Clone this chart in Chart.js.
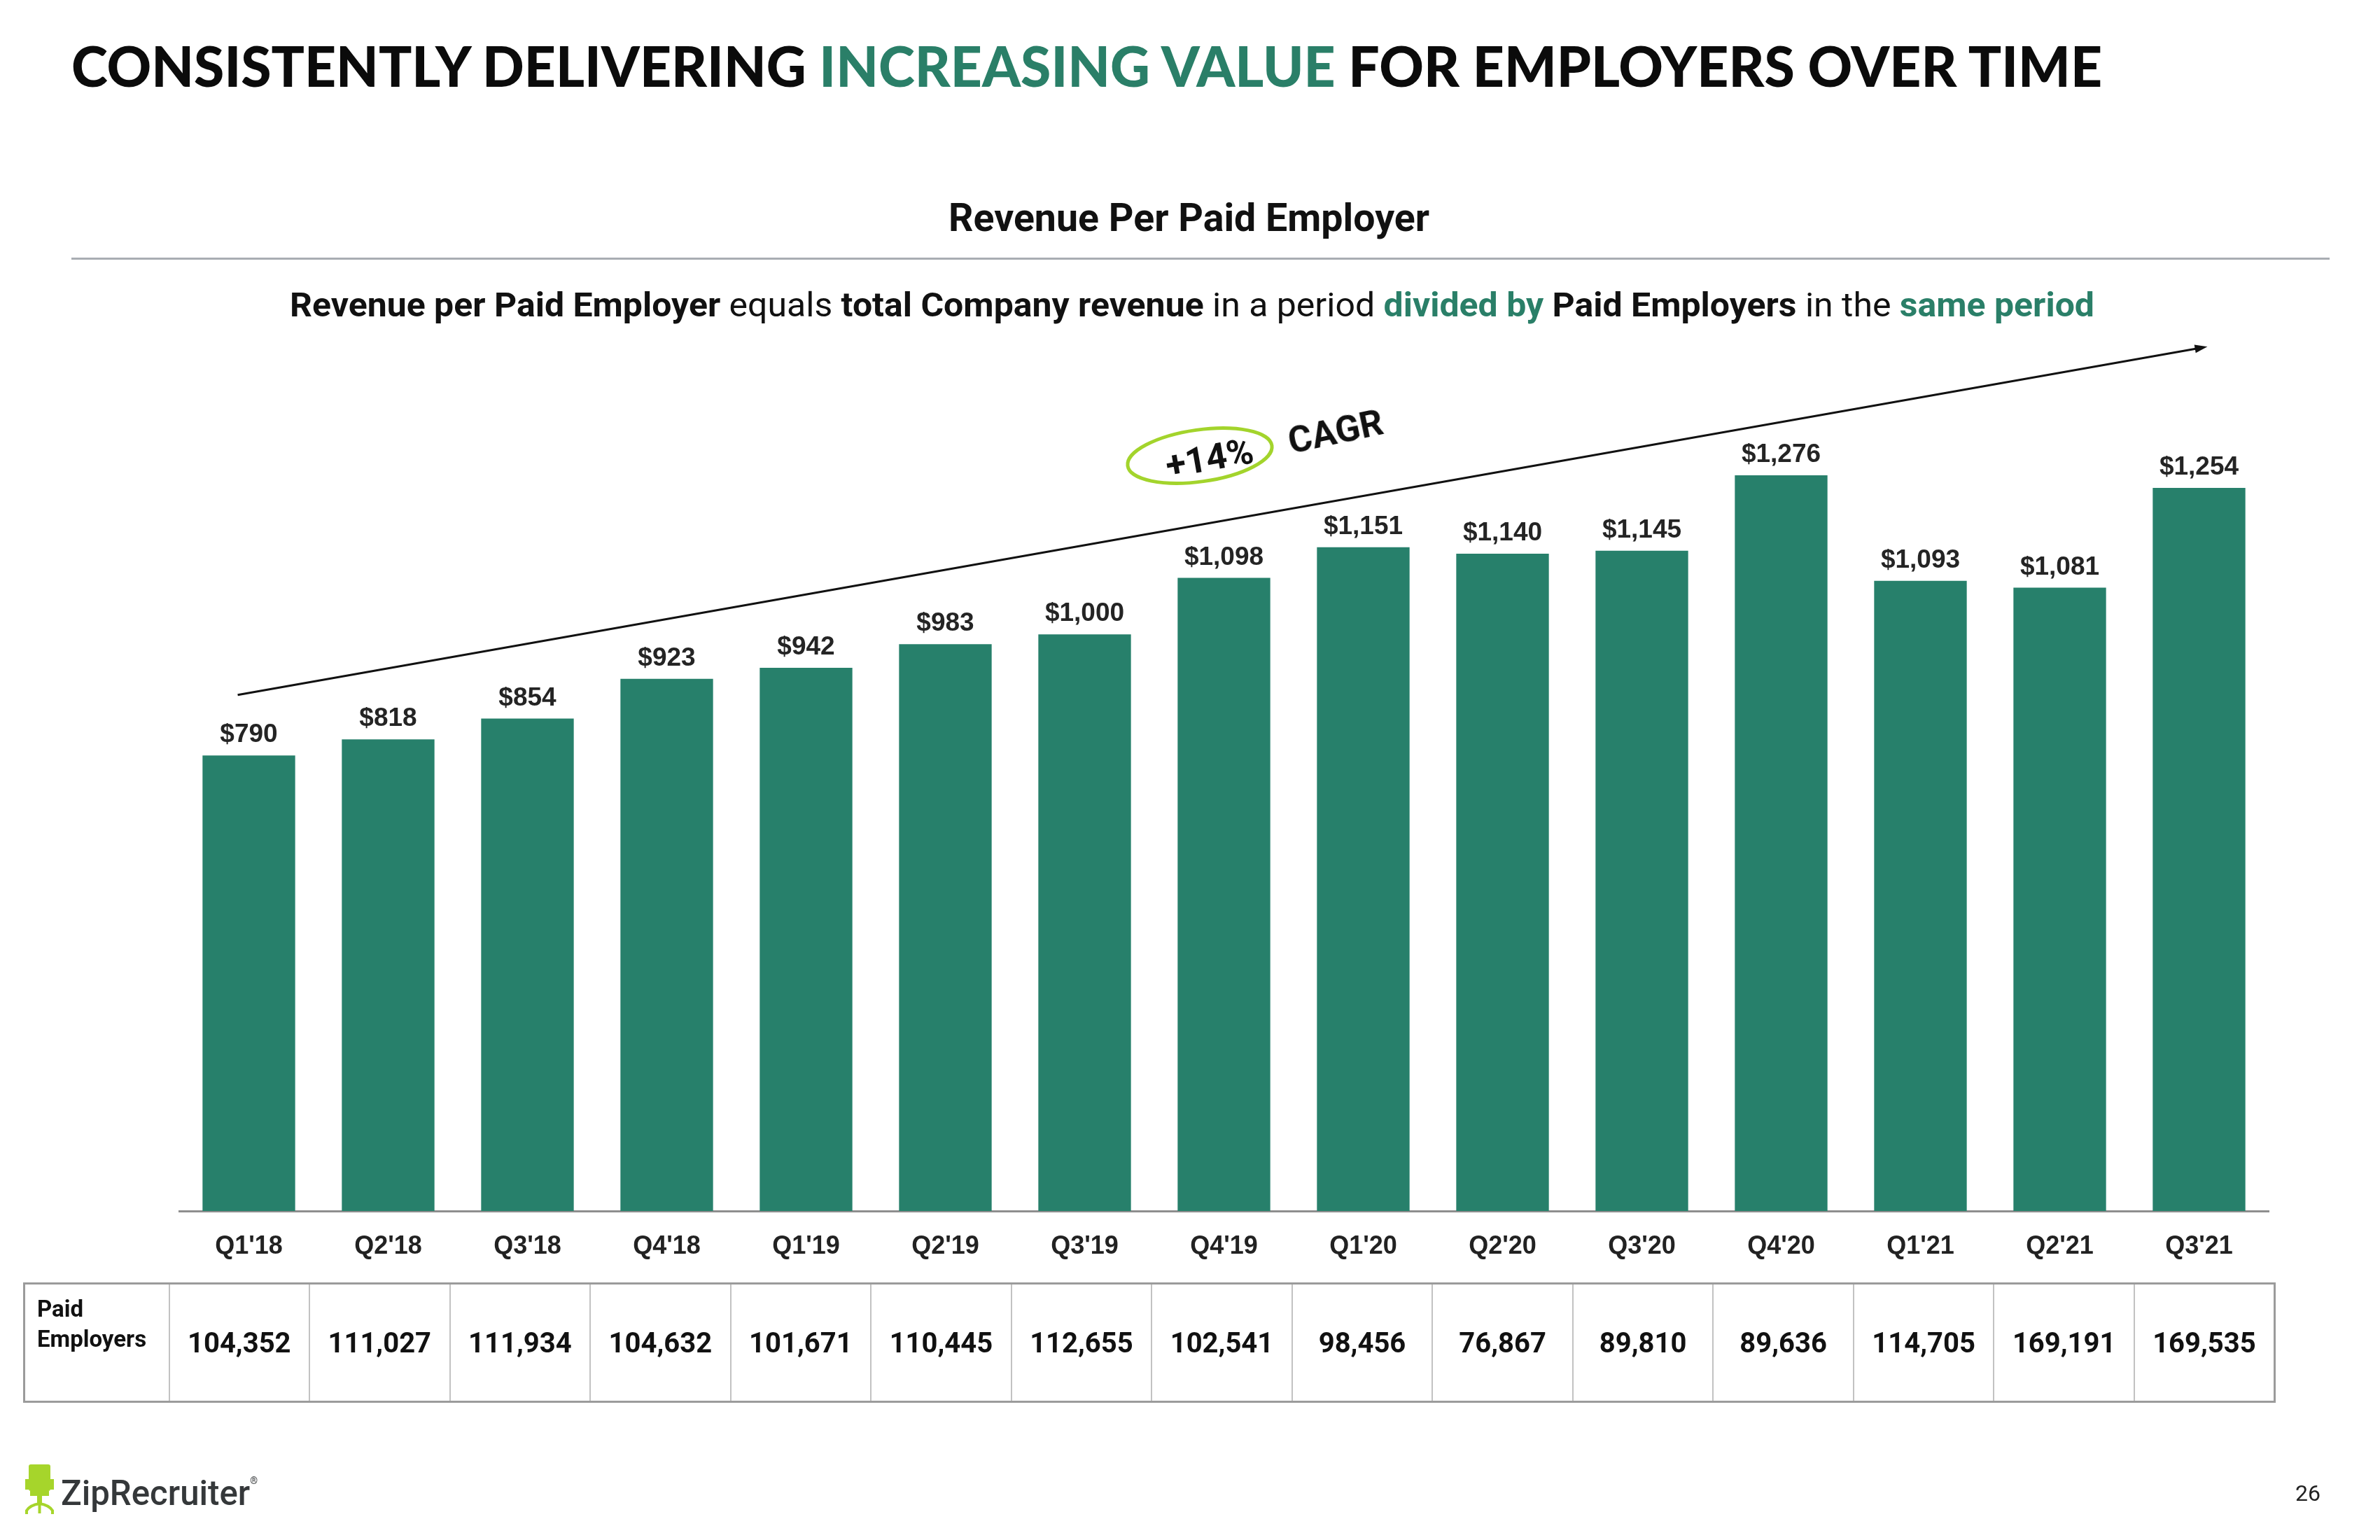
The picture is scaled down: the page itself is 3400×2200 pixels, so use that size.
<!DOCTYPE html>
<html>
<head>
<meta charset="utf-8">
<script src="https://cdn.jsdelivr.net/npm/chart.js@4.4.1/dist/chart.umd.min.js"></script>
<style>
  html, body { margin: 0; padding: 0; background: #fff; }
  body { width: 3400px; height: 2200px; position: relative; overflow: hidden; font-family: Roboto, "Liberation Sans", sans-serif; color: #111; }
  #chart { position: absolute; left: 0; top: 0; width: 3400px; height: 2200px; }
  .abs { position: absolute; white-space: nowrap; transform-origin: left top; }
  .green { color: #2a7f68; }
  #title { top: 53px; font-family: Lato, sans-serif; font-weight: 900; font-size: 80px; line-height: 80px; color: #0b0b0b; }
  #subtitle { top: 283px; font-weight: 700; font-size: 56px; line-height: 56px; }
  #rule { position: absolute; left: 102px; top: 368px; width: 3226px; height: 3px; background: #a9adb3; }
  #desc { top: 412px; font-size: 48px; line-height: 48px; }
  #desc b { font-weight: 700; }
  .note { position: absolute; font-weight: 700; font-size: 52px; line-height: 52px; white-space: nowrap; color: #111; }
  #pct { left: 1728px; top: 655px; transform: translate(-50%, -50%) rotate(-10deg); }
  #cagr { left: 1908px; top: 617px; transform: translate(-50%, -50%) rotate(-12deg); }
  #ring { position: absolute; left: 1590px; top: 590px; }
  #tbl { position: absolute; left: 33px; top: 1832px; width: 3215px; height: 172px; border-collapse: collapse; table-layout: fixed; border: 3px solid #9b9b9b; }
  #tbl td { border: 2px solid #c2c2c2; text-align: center; vertical-align: middle; font-weight: 700; font-size: 40px; color: #111; padding: 0; }
  #tbl td.hdr { text-align: left; vertical-align: top; font-size: 33px; line-height: 43px; padding: 13px 0 0 17px; }
  #logo { position: absolute; left: 30px; top: 2080px; }
  #brand { top: 2090px; font-family: Roboto, sans-serif; font-weight: 500; font-size: 50px; line-height: 50px; color: #35383a; }
  #brand sup { font-size: 14px; font-weight: 400; vertical-align: 30px; }
  #page { position: absolute; right: 85px; top: 2117px; font-size: 32px; line-height: 32px; color: #222; }
</style>
</head>
<body>
<canvas id="chart" width="3400" height="2200"></canvas>

<div id="title" class="abs">CONSISTENTLY DELIVERING <span class="green">INCREASING VALUE</span> FOR EMPLOYERS OVER TIME</div>
<div id="subtitle" class="abs">Revenue Per Paid Employer</div>
<div id="rule"></div>
<div id="desc" class="abs"><b>Revenue per Paid Employer</b> equals <b>total Company revenue</b> in a period <b class="green">divided by</b> <b>Paid Employers</b> in the <b class="green">same period</b></div>

<svg id="ring" width="260" height="130">
  <ellipse cx="124" cy="61" rx="104" ry="37" transform="rotate(-8 124 61)" fill="none" stroke="#a3d42c" stroke-width="5"/>
</svg>
<div id="pct" class="note">+14%</div>
<div id="cagr" class="note">CAGR</div>

<table id="tbl"><colgroup id="cols"></colgroup><tr id="row"></tr></table>

<svg id="logo" width="60" height="90">
  <rect x="11" y="12" width="31" height="38" rx="3" fill="#a6d52b"/>
  <rect x="6" y="33" width="5" height="15" fill="#a6d52b"/>
  <rect x="42" y="33" width="5" height="15" fill="#a6d52b"/>
  <rect x="13" y="50" width="27" height="7" fill="#a6d52b"/>
  <rect x="23" y="57" width="7" height="11" fill="#a6d52b"/>
  <path d="M26.5 68 Q13 70 8 78 M26.5 68 Q40 70 45 78 M26.5 68 L26.5 82" stroke="#a6d52b" stroke-width="4" fill="none"/>
  <rect x="6" y="77" width="4" height="6" fill="#a6d52b"/>
  <rect x="43" y="77" width="4" height="6" fill="#a6d52b"/>
</svg>
<div id="brand" class="abs">ZipRecruiter<sup>®</sup></div>
<div id="page">26</div>

<script>
const quarters = ["Q1'18", "Q2'18", "Q3'18", "Q4'18", "Q1'19", "Q2'19", "Q3'19", "Q4'19",
  "Q1'20", "Q2'20", "Q3'20", "Q4'20", "Q1'21", "Q2'21", "Q3'21"];
const revenuePerEmployer = [790, 818, 854, 923, 942, 983, 1000, 1098, 1151, 1140, 1145, 1276, 1093, 1081, 1254];
const paidEmployers = [104352, 111027, 111934, 104632, 101671, 110445, 112655, 102541,
  98456, 76867, 89810, 89636, 114705, 169191, 169535];
// trend arrow, in category index / revenue units
const trendIndex = [-0.08, 14.06];
const trendValue = [895, 1499];

const barGreen = "#27806b";

// stretch a text block so it spans the same width as in the slide
function fitWidth(id, left, right) {
  const el = document.getElementById(id);
  const w = el.getBoundingClientRect().width;
  el.style.left = left + "px";
  el.style.transform = "scaleX(" + ((right - left) / w) + ")";
}

function buildTable() {
  const cols = document.getElementById("cols");
  const row = document.getElementById("row");
  const first = document.createElement("col");
  first.style.width = "207px";
  cols.appendChild(first);
  const hdr = document.createElement("td");
  hdr.className = "hdr";
  hdr.innerHTML = "Paid<br>Employers";
  row.appendChild(hdr);
  paidEmployers.forEach((v) => {
    const c = document.createElement("col");
    c.style.width = (3008 / paidEmployers.length) + "px";
    cols.appendChild(c);
    const td = document.createElement("td");
    td.textContent = v.toLocaleString("en-US");
    row.appendChild(td);
  });
}

const barLabels = {
  id: "barLabels",
  afterDatasetsDraw(chart) {
    const ctx = chart.ctx;
    const meta = chart.getDatasetMeta(0);
    ctx.save();
    ctx.font = 'bold 37px "Liberation Sans", Arial, sans-serif';
    ctx.fillStyle = "#242424";
    ctx.textAlign = "center";
    ctx.textBaseline = "alphabetic";
    meta.data.forEach((bar, i) => {
      ctx.fillText("$" + revenuePerEmployer[i].toLocaleString("en-US"), bar.x, bar.y - 19);
    });
    ctx.restore();
  }
};

const trendArrow = {
  id: "trendArrow",
  afterDatasetsDraw(chart) {
    const { ctx, scales: { x, y } } = chart;
    const x0 = x.getPixelForValue(trendIndex[0]);
    const x1 = x.getPixelForValue(trendIndex[1]);
    const y0 = y.getPixelForValue(trendValue[0]);
    const y1 = y.getPixelForValue(trendValue[1]);
    const ang = Math.atan2(y1 - y0, x1 - x0);
    ctx.save();
    ctx.strokeStyle = "#111";
    ctx.fillStyle = "#111";
    ctx.lineWidth = 3;
    ctx.beginPath();
    ctx.moveTo(x0, y0);
    ctx.lineTo(x1 - 10 * Math.cos(ang), y1 - 10 * Math.sin(ang));
    ctx.stroke();
    ctx.beginPath();
    ctx.moveTo(x1, y1);
    ctx.lineTo(x1 - 18 * Math.cos(ang) + 6 * Math.sin(ang), y1 - 18 * Math.sin(ang) - 6 * Math.cos(ang));
    ctx.lineTo(x1 - 18 * Math.cos(ang) - 6 * Math.sin(ang), y1 - 18 * Math.sin(ang) + 6 * Math.cos(ang));
    ctx.closePath();
    ctx.fill();
    ctx.restore();
  }
};

function renderChart() {
  new Chart(document.getElementById("chart"), {
    type: "bar",
    data: {
      labels: quarters,
      datasets: [
        {
          label: "Revenue Per Paid Employer",
          data: revenuePerEmployer,
          backgroundColor: barGreen,
          barPercentage: 0.665,
          categoryPercentage: 1,
        },
      ],
    },
    options: {
      responsive: false,
      animation: false,
      devicePixelRatio: 1,
      layout: { padding: { left: 256, right: 159, top: 412, bottom: 370 } },
      plugins: { legend: { display: false }, tooltip: { enabled: false } },
      scales: {
        x: {
          grid: { display: false },
          border: { display: true, color: "#8e8e8e", width: 3 },
          ticks: {
            color: "#222",
            padding: 21,
            font: { family: '"Liberation Sans", Arial, sans-serif', weight: "bold", size: 36 },
          },
          afterFit(scale) { scale.height = 100; },
        },
        y: { display: false, min: 0, max: 1600 },
      },
    },
    plugins: [barLabels, trendArrow],
  });
}

buildTable();
fitWidth("title", 102, 3003);
fitWidth("subtitle", 1355, 2042);
fitWidth("desc", 414, 2992);
fitWidth("brand", 87, 368);
renderChart();
</script>
</body>
</html>
